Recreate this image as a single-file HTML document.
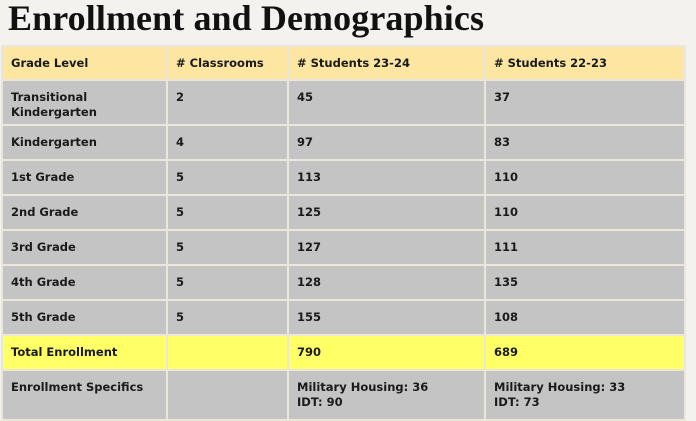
<!DOCTYPE html>
<html><head><style>
body{margin:0;width:696px;height:415px;overflow:hidden;background:#f3f2ef;position:relative;font-family:"DejaVu Sans","Liberation Sans",sans-serif;}
h1{position:absolute;left:8px;top:-3px;margin:0;font-family:"Liberation Serif","DejaVu Serif",serif;font-weight:bold;font-size:36px;color:#111;letter-spacing:0.1px;}
table{position:absolute;left:1px;top:45px;border-collapse:collapse;table-layout:fixed;}
td{border:2px solid #ebe6da;background:#c4c4c4;font-weight:bold;font-size:11.5px;color:#1a1a1a;vertical-align:top;padding:9px 8px 0 8px;line-height:15px;box-sizing:border-box;}
tr.h td{background:#fde6a2;height:34px;padding-top:9px;}
tr.t td{background:#ffff66;}
</style></head><body>
<h1>Enrollment and Demographics</h1>
<table>
<colgroup><col style="width:165px"><col style="width:121px"><col style="width:197px"><col style="width:200px"></colgroup>
<tr class="h"><td>Grade Level</td><td># Classrooms</td><td># Students 23-24</td><td># Students 22-23</td></tr>
<tr style="height:45px"><td>Transitional<br>Kindergarten</td><td>2</td><td>45</td><td>37</td></tr>
<tr style="height:35px"><td>Kindergarten</td><td>4</td><td>97</td><td>83</td></tr>
<tr style="height:35px"><td>1st Grade</td><td>5</td><td>113</td><td>110</td></tr>
<tr style="height:35px"><td>2nd Grade</td><td>5</td><td>125</td><td>110</td></tr>
<tr style="height:35px"><td>3rd Grade</td><td>5</td><td>127</td><td>111</td></tr>
<tr style="height:35px"><td>4th Grade</td><td>5</td><td>128</td><td>135</td></tr>
<tr style="height:35px"><td>5th Grade</td><td>5</td><td>155</td><td>108</td></tr>
<tr class="t" style="height:35px"><td>Total Enrollment</td><td></td><td>790</td><td>689</td></tr>
<tr style="height:50px"><td>Enrollment Specifics</td><td></td><td>Military Housing: 36<br>IDT: 90</td><td>Military Housing: 33<br>IDT: 73</td></tr>
</table>
</body></html>
